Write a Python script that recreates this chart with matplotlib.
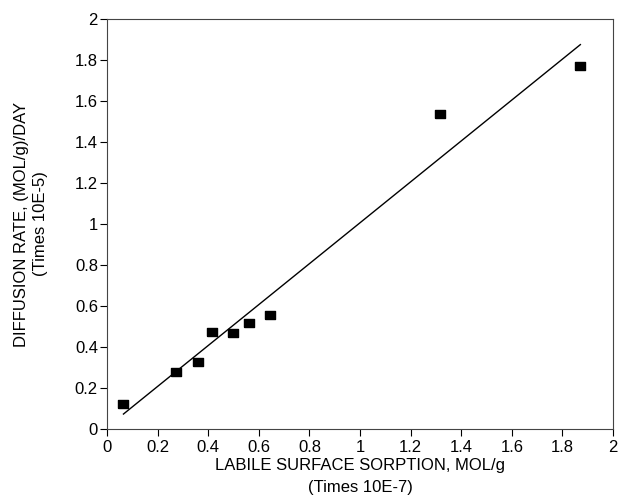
import numpy as np
import matplotlib.pyplot as plt
from matplotlib.path import Path

plt.rcParams['font.family'] = ['Liberation Sans', 'DejaVu Sans']

# 实测数据点
sorption = [0.065, 0.271, 0.358, 0.414, 0.497, 0.563, 0.644, 1.317, 1.871]
rate = [0.12, 0.28, 0.328, 0.475, 0.468, 0.517, 0.558, 1.538, 1.771]

# 拟合直线端点
fit_x = [0.065, 1.871]
fit_y = [0.073, 1.875]

ticks = [0, 0.2, 0.4, 0.6, 0.8, 1, 1.2, 1.4, 1.6, 1.8, 2]
tick_labels = ["0", "0.2", "0.4", "0.6", "0.8", "1", "1.2", "1.4", "1.6", "1.8", "2"]

fig = plt.figure(figsize=(6.2, 4.97), dpi=100)
ax = fig.add_axes([0.1726, 0.1368, 0.8161, 0.825])

# 扁矩形标记
rect = Path([(-1.4, -1), (1.4, -1), (1.4, 1), (-1.4, 1), (-1.4, -1)])
ax.plot(sorption, rate, linestyle='none', marker=rect, markersize=7.5,
        color='black')
ax.plot(fit_x, fit_y, color='black', linewidth=1.0)

ax.set_xlim(0, 2)
ax.set_ylim(0, 2)
ax.set_xticks(ticks)
ax.set_xticklabels(tick_labels)
ax.set_yticks(ticks)
ax.set_yticklabels(tick_labels)
ax.tick_params(direction='out', length=5, width=0.8, labelsize=12, pad=1.5)
ax.tick_params(axis='x', pad=3)

for s in ax.spines.values():
    s.set_linewidth(0.8)
    s.set_color('#444444')

ax.set_xlabel("LABILE SURFACE SORPTION, MOL/g\n(Times 10E-7)", fontsize=12,
              labelpad=2, linespacing=1.6)
ax.set_ylabel("DIFFUSION RATE, (MOL/g)/DAY\n(Times 10E-5)", fontsize=12,
              labelpad=19, linespacing=1.35)

plt.savefig("out.png", dpi=100)
